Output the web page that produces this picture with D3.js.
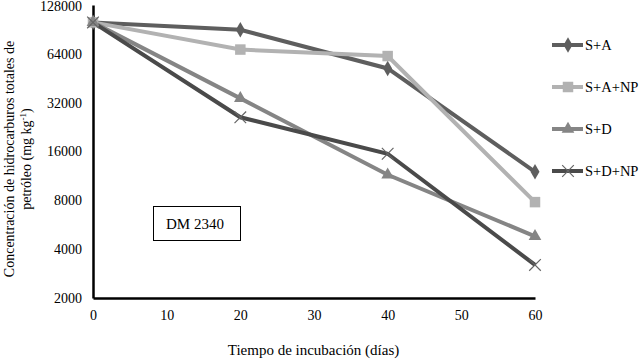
<!DOCTYPE html>
<html lang="es">
<head>
<meta charset="UTF-8">
<title>DM 2340</title>
<script src="https://d3js.org/d3.v7.min.js"></script>
<style>
  body { margin: 0; background: #fff; }
  svg text { font-family: "Liberation Serif", "Times New Roman", "DejaVu Serif", serif !important; fill: #000; }
</style>
</head>
<body>
<svg id="chart" width="643" height="359"></svg>
<script>
const dias = [0, 20, 40, 60];
const series = ["S+A", "S+A+NP", "S+D", "S+D+NP"];
const sA = [100000, 90000, 52000, 12000];
const sANP = [100000, 68000, 62000, 7800];
const sD = [100000, 34000, 11500, 4800];
const sDNP = [100000, 26000, 15500, 3200];
const yTicks = [2000, 4000, 8000, 16000, 32000, 64000, 128000];
const xTicks = [0, 10, 20, 30, 40, 50, 60];

const valores = [sA, sANP, sD, sDNP];
const colores = ["#5e5e5e", "#b2b2b2", "#858585", "#4a4a4a"];
const simbolos = [d3.symbolDiamond, d3.symbolSquare, d3.symbolTriangle, d3.symbolX];

const svg = d3.select("#chart");
const margin = {left: 93, top: 5, right: 108, bottom: 61};
const width = 643 - margin.left - margin.right,
      height = 359 - margin.top - margin.bottom;

const g = svg.append("g").attr("transform", `translate(${margin.left},${margin.top})`);

const x = d3.scaleLinear().domain([0, 60]).range([0, width]);
const y = d3.scaleLog().base(2).domain([2000, 128000]).range([height, 0]);

// ejes
const ax = g.append("g").attr("transform", `translate(0,${height})`)
  .call(d3.axisBottom(x).tickValues(xTicks).tickSize(0).tickPadding(12));
const ay = g.append("g")
  .call(d3.axisLeft(y).tickValues(yTicks).tickFormat(d3.format("d")).tickSize(0).tickPadding(11));
[ax, ay].forEach(a => {
  a.attr("font-family", null);
  a.select(".domain").attr("stroke", "#000").attr("stroke-width", 2.5);
  a.selectAll("text").attr("font-size", 14);
});
ay.selectAll("text").filter(d => d === 128000).attr("dy", "0.42em");

const line = d3.line().x((d, i) => x(dias[i])).y(d => y(d));

valores.forEach((vals, k) => {
  g.append("path").datum(vals)
    .attr("d", line)
    .attr("fill", "none")
    .attr("stroke", colores[k])
    .attr("stroke-width", 4);
});

function marca(sel, k) {
  const sz = [70, 110, 70, 90][k];
  sel.attr("d", d3.symbol().type(simbolos[k]).size(sz));
  if (k === 3) sel.attr("fill", "none").attr("stroke", "#666").attr("stroke-width", 1.2);
  else sel.attr("fill", colores[k]).attr("stroke", "none");
}

valores.forEach((vals, k) => {
  g.selectAll(".m" + k).data(vals).enter().append("path")
    .attr("transform", (d, i) => `translate(${x(dias[i])},${y(d)})`)
    .call(marca, k);
});

// leyenda
const ley = svg.append("g").attr("transform", "translate(552,0)");
series.forEach((s, k) => {
  const yy = 45 + k * 42;
  ley.append("line").attr("x1", 0).attr("x2", 31).attr("y1", yy).attr("y2", yy)
    .attr("stroke", colores[k]).attr("stroke-width", 4);
  ley.append("path").attr("transform", `translate(16,${yy})`).call(marca, k);
  ley.append("text").attr("x", 33).attr("y", yy + 5).attr("font-size", 14.5).text(s);
});

// recuadro
svg.append("rect").attr("x", 153.5).attr("y", 206.5).attr("width", 87).attr("height", 34)
  .attr("fill", "#fff").attr("stroke", "#000").attr("stroke-width", 1);
svg.append("text").attr("x", 195).attr("y", 229).attr("text-anchor", "middle")
  .attr("font-size", 15).text("DM 2340");

// títulos
svg.append("text").attr("x", 313.5).attr("y", 355).attr("text-anchor", "middle")
  .attr("font-size", 15).text("Tiempo de incubación (días)");
const yt = svg.append("text").attr("transform", "translate(0,159) rotate(-90)")
  .attr("text-anchor", "middle").attr("font-size", 14);
yt.append("tspan").attr("x", 0).attr("y", 14).text("Concentración de hidrocarburos totales de");
const t2 = yt.append("tspan").attr("x", 0).attr("y", 31).text("petróleo (mg kg");
t2.append("tspan").attr("baseline-shift", "super").attr("font-size", 9).text("-1");
t2.append("tspan").text(")");
</script>
</body>
</html>
